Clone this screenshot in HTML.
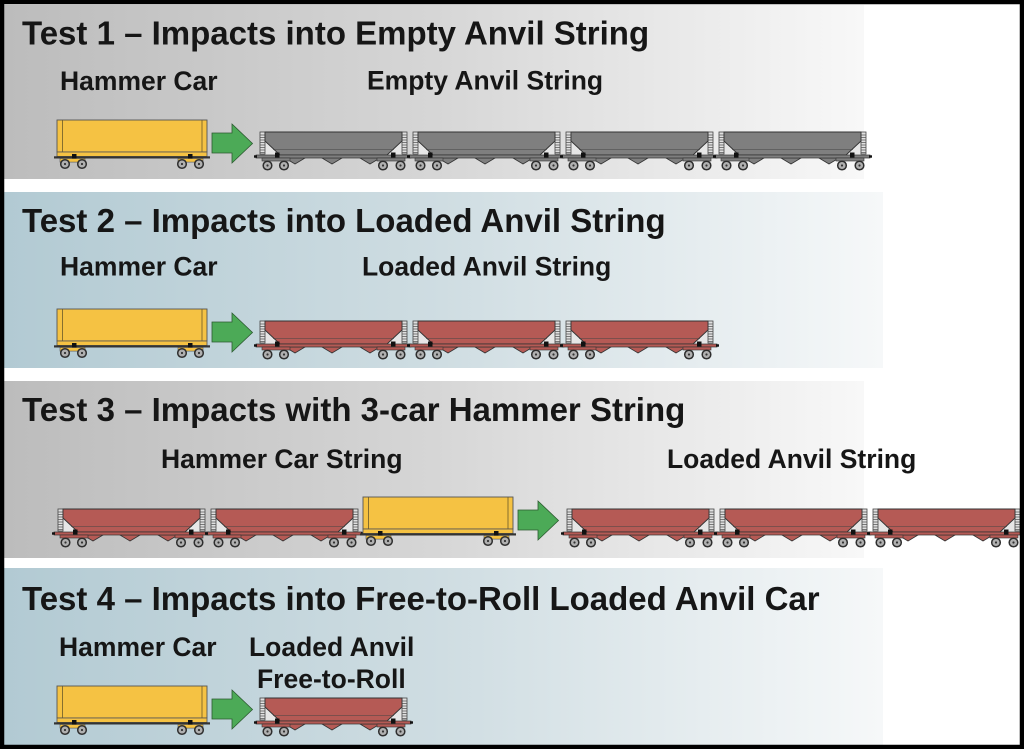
<!DOCTYPE html>
<html><head><meta charset="utf-8">
<style>
html,body{margin:0;padding:0;background:#000;}
svg{display:block;}
text{font-family:"Liberation Sans",Arial,sans-serif;font-weight:bold;fill:#161616;}
.t{font-size:33px;}
.l{font-size:26.5px;}
</style></head>
<body>
<svg width="1024" height="749" viewBox="0 0 1024 749" xmlns="http://www.w3.org/2000/svg">
<defs>
<linearGradient id="gg" x1="0" y1="0" x2="1" y2="0">
<stop offset="0" stop-color="#bcbcbc"/>
<stop offset="0.5" stop-color="#d6d6d6"/>
<stop offset="1" stop-color="#f8f8f8"/>
</linearGradient>
<linearGradient id="bg" x1="0" y1="0" x2="1" y2="0">
<stop offset="0" stop-color="#b2cad3"/>
<stop offset="0.5" stop-color="#cfdde2"/>
<stop offset="1" stop-color="#f6f8f9"/>
</linearGradient>
<g id="wh">
<circle cx="0" cy="0" r="4.3" fill="#b0b0b0" stroke="#2e2e2e" stroke-width="1.5"/>
<circle cx="0" cy="0" r="1.1" fill="#333"/>
</g>
<g id="hop">
<polygon points="5,9 20,23 5,23" fill="#e6e6e6"/>
<polygon points="142,9 127,23 142,23" fill="#e6e6e6"/>
<rect x="0" y="0" width="5" height="22" fill="#e0e0e0" stroke="#444" stroke-width="0.8"/>
<rect x="142" y="0" width="5" height="22" fill="#e0e0e0" stroke="#444" stroke-width="0.8"/>
<path d="M0,3H5M0,5.5H5M0,8H5M0,10.5H5M0,13H5M0,15.5H5M0,18H5M0,20.5H5M142,3H147M142,5.5H147M142,8H147M142,10.5H147M142,13H147M142,15.5H147M142,18H147M142,20.5H147" stroke="#555" stroke-width="0.7"/>
<polygon points="5,0 142,0 142,9 127,23 20,23 5,9" fill="currentColor" stroke="#333" stroke-width="0.9"/>
<line x1="13" y1="17.5" x2="134" y2="17.5" stroke="#444" stroke-width="0.6"/>
<polygon points="25,26 35,32 45,26" fill="currentColor" stroke="#333" stroke-width="0.8"/>
<polygon points="62,26 72,32 82,26" fill="currentColor" stroke="#333" stroke-width="0.8"/>
<polygon points="100,26 110,32 120,26" fill="currentColor" stroke="#333" stroke-width="0.8"/>
<rect x="-4" y="23" width="155" height="3" fill="currentColor" stroke="#333" stroke-width="0.7"/>
<rect x="-6" y="23.3" width="3" height="2.4" fill="#111"/>
<rect x="150" y="23.3" width="3" height="2.4" fill="#111"/>
<rect x="15" y="20.5" width="4.5" height="5" fill="#111"/>
<rect x="131" y="20.5" width="4.5" height="5" fill="#111"/>
<rect x="2" y="26" width="28" height="3" fill="currentColor" stroke="#333" stroke-width="0.6"/>
<rect x="117" y="26" width="28" height="3" fill="currentColor" stroke="#333" stroke-width="0.6"/>
<use href="#wh" x="7.5" y="33.5"/><use href="#wh" x="24" y="33.5"/>
<use href="#wh" x="123" y="33.5"/><use href="#wh" x="140.5" y="33.5"/>
</g>
<g id="ham">
<rect x="0" y="0" width="150" height="32" fill="#f5c243" stroke="#555" stroke-width="0.9"/>
<line x1="5.5" y1="0" x2="5.5" y2="32" stroke="#6a5a2a" stroke-width="0.8"/>
<line x1="145" y1="0" x2="145" y2="32" stroke="#6a5a2a" stroke-width="0.8"/>
<rect x="0" y="32" width="150" height="4.5" fill="#f5c243" stroke="#555" stroke-width="0.8"/>
<rect x="-3" y="36.3" width="156" height="2.2" fill="#333"/>
<rect x="3" y="38.5" width="25" height="3.6" fill="#f5c243" stroke="#555" stroke-width="0.6"/>
<rect x="121" y="38.5" width="25" height="3.6" fill="#f5c243" stroke="#555" stroke-width="0.6"/>
<rect x="15" y="34" width="4.5" height="4.5" fill="#111"/>
<rect x="131" y="34" width="4.5" height="4.5" fill="#111"/>
<use href="#wh" x="8" y="44"/><use href="#wh" x="25" y="44"/>
<use href="#wh" x="125" y="44"/><use href="#wh" x="142" y="44"/>
<polygon points="155,13 175,13 175,4 195.5,23.5 175,43 175,33 155,33" fill="#4caa57" stroke="#2c5a30" stroke-width="0.8"/>
</g>
</defs>

<rect x="4" y="4" width="1016" height="741" fill="#ffffff"/>
<rect x="4" y="5" width="860" height="174" fill="url(#gg)"/>
<rect x="4" y="192" width="879" height="176" fill="url(#bg)"/>
<rect x="4" y="381" width="860" height="177" fill="url(#gg)"/>
<rect x="4" y="568" width="879" height="177" fill="url(#bg)"/>

<!-- Test 1 -->
<text class="t" x="22" y="44.5">Test 1 – Impacts into Empty Anvil String</text>
<text class="l" x="60" y="90">Hammer Car</text>
<text class="l" x="367" y="89.5">Empty Anvil String</text>
<use href="#ham" x="57" y="120"/>
<g color="#7f7f7f">
<use href="#hop" x="260" y="132"/>
<use href="#hop" x="413" y="132"/>
<use href="#hop" x="566" y="132"/>
<use href="#hop" x="719" y="132"/>
</g>

<!-- Test 2 -->
<text class="t" x="22" y="232">Test 2 – Impacts into Loaded Anvil String</text>
<text class="l" x="60" y="275.5">Hammer Car</text>
<text class="l" x="362" y="275.5">Loaded Anvil String</text>
<use href="#ham" x="57" y="309"/>
<g color="#b55a55">
<use href="#hop" x="260" y="321"/>
<use href="#hop" x="413" y="321"/>
<use href="#hop" x="566" y="321"/>
</g>

<!-- Test 3 -->
<text class="t" x="22" y="421">Test 3 – Impacts with 3-car Hammer String</text>
<text class="l" x="161" y="468">Hammer Car String</text>
<text class="l" x="667" y="468">Loaded Anvil String</text>
<g color="#b55a55">
<use href="#hop" x="58" y="509"/>
<use href="#hop" x="211" y="509"/>
<use href="#hop" x="567" y="509"/>
<use href="#hop" x="720" y="509"/>
<use href="#hop" x="873" y="509"/>
</g>
<use href="#ham" x="363" y="497"/>

<!-- Test 4 -->
<text class="t" x="22" y="610">Test 4 – Impacts into Free-to-Roll Loaded Anvil Car</text>
<text class="l" x="59" y="656">Hammer Car</text>
<text class="l" x="249" y="656">Loaded Anvil</text>
<text class="l" x="257" y="688">Free-to-Roll</text>
<use href="#ham" x="57" y="686"/>
<g color="#b55a55">
<use href="#hop" x="260" y="698"/>
</g>

<!-- border -->
<rect x="2" y="2" width="1020" height="745" fill="none" stroke="#000" stroke-width="4.5"/>
</svg>
</body></html>
